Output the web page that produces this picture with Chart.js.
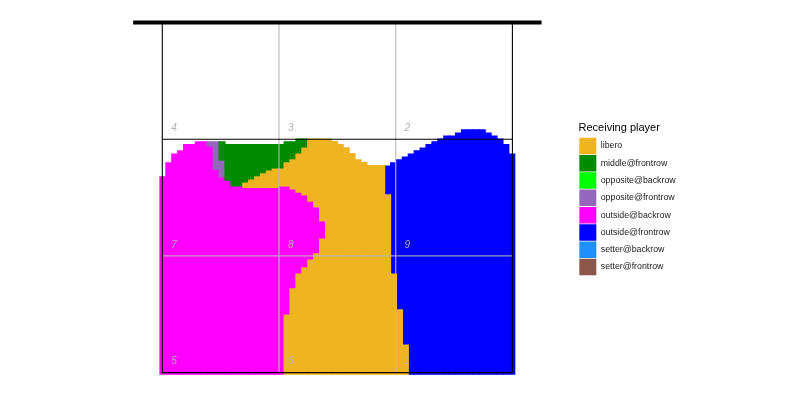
<!DOCTYPE html>
<html>
<head>
<meta charset="utf-8">
<script src="https://cdn.jsdelivr.net/npm/chart.js@4.4.1/dist/chart.umd.min.js"></script>
<style>
  html, body { margin: 0; padding: 0; background: #ffffff; }
  #wrap { position: relative; width: 791px; height: 400px; }
</style>
</head>
<body>
<div id="wrap"><canvas id="chart"></canvas></div>
<script>
// ---- Data -------------------------------------------------------------
// Receiving player categories (legend order)
const categories = ['libero', 'middle@frontrow', 'opposite@backrow', 'opposite@frontrow',
                    'outside@backrow', 'outside@frontrow', 'setter@backrow', 'setter@frontrow'];

// Heat-map grid: 60 columns across the court width (metres)
const gridStart = -0.06;
const gridStep = 0.152;

// Cells per receiving player: [grid column, depth from net at top (m), depth at bottom (m)]
const libero = [
  [14,4.13,4.24],[15,4.05,4.24],[16,3.97,4.24],[17,3.89,4.24],[18,3.82,4.24],[19,3.77,4.24],[20,3.77,4.20],
  [21,3.61,4.20],[21,7.52,9.04],[22,3.53,4.28],[22,6.85,9.04],[23,3.38,4.36],[23,6.47,9.04],
  [24,3.23,4.43],[24,6.31,9.04],[25,3.00,4.59],[25,6.11,9.04],[26,3.00,4.74],[26,5.95,9.04],
  [27,3.00,5.10],[27,5.57,9.04],[28,3.00,9.04],[29,3.06,9.04],[30,3.14,9.04],[31,3.22,9.04],
  [32,3.37,9.04],[33,3.53,9.04],[34,3.60,9.04],[35,3.68,9.04],[36,3.68,9.04],[37,3.68,9.04],
  [38,4.43,9.04],[39,6.47,9.04],[40,7.39,9.04],[41,8.29,9.04]
];
const middleFrontrow = [
  [10,3.07,3.53],[11,3.14,4.05],[12,3.14,4.20],[13,3.14,4.20],[14,3.14,4.13],[15,3.14,4.05],
  [16,3.14,3.97],[17,3.14,3.89],[18,3.14,3.82],[19,3.14,3.77],[20,3.14,3.77],[21,3.07,3.61],
  [22,3.07,3.53],[23,3.00,3.38],[24,3.00,3.23]
];
const oppositeBackrow = [];
const oppositeFrontrow = [[8,3.07,3.17],[9,3.07,3.77],[10,3.53,3.97]];
const outsideBackrow = [
  [0,3.97,9.04],[1,3.61,9.04],[2,3.38,9.04],[3,3.30,9.04],[4,3.14,9.04],[5,3.14,9.04],[6,3.07,9.04],
  [7,3.07,9.04],[8,3.17,9.04],[9,3.77,9.04],[10,3.97,9.04],[11,4.05,9.04],[12,4.20,9.04],[13,4.20,9.04],
  [14,4.24,9.04],[15,4.24,9.04],[16,4.24,9.04],[17,4.24,9.04],[18,4.24,9.04],[19,4.24,9.04],
  [20,4.20,9.04],[21,4.20,7.52],[22,4.28,6.85],[23,4.36,6.47],[24,4.43,6.31],[25,4.59,6.11],
  [26,4.74,5.95],[27,5.10,5.57]
];
const outsideFrontrow = [
  [38,3.69,4.43],[39,3.61,6.47],[40,3.53,7.39],[41,3.46,8.29],[42,3.38,9.04],[43,3.30,9.04],
  [44,3.23,9.04],[45,3.14,9.04],[46,3.07,9.04],[47,3.00,9.04],[48,2.92,9.04],[49,2.92,9.04],
  [50,2.84,9.04],[51,2.76,9.04],[52,2.76,9.04],[53,2.76,9.04],[54,2.76,9.04],[55,2.84,9.04],
  [56,2.92,9.04],[57,3.00,9.04],[58,3.14,9.04],[59,3.38,9.04]
];
const setterBackrow = [];
const setterFrontrow = [];

// Court geometry (metres): 9 x 9 half court, net at depth 0
const courtEdges = [0, 9];
const netSpan = [-0.75, 9.75];
const attackDepth = 3;
const zoneLinesX = [3, 6];
const zoneLinesY = [6];

// Zone numbers
const zoneNumbers = ['4', '3', '2', '7', '8', '9', '5', '6', '1'];
const zoneNumberX = [0.3, 3.3, 6.3, 0.3, 3.3, 6.3, 0.3, 3.3, 6.3];
const zoneNumberY = [2.72, 2.72, 2.72, 5.72, 5.72, 5.72, 8.72, 8.72, 8.72];

// ---- Styles -----------------------------------------------------------
const categoryColors = ['#EEB422', '#008B00', '#00FF00', '#9467BD', '#FF00FF', '#0000FF', '#1E90FF', '#8C564B'];
const cellsByCategory = [libero, middleFrontrow, oppositeBackrow, oppositeFrontrow,
                         outsideBackrow, outsideFrontrow, setterBackrow, setterFrontrow];
const FONT = "'Liberation Sans', Arial, Helvetica, sans-serif";
Chart.defaults.font.family = FONT;

const colCenter = c => gridStart + (c + 0.5) * gridStep;

const barSets = categories.map((name, i) => ({
  type: 'bar',
  label: name,
  order: 2,
  data: cellsByCategory[i].map(([c, top, bottom]) => ({ x: colCenter(c), y: [top, bottom] })),
  backgroundColor: categoryColors[i],
  borderWidth: 0,
  grouped: false,
  barPercentage: 1,
  categoryPercentage: 1,
  inflateAmount: 0.6
}));

const lineSet = (pts, color, width, order) => ({
  type: 'line',
  label: '_court',
  order: order,
  data: pts.map(([x, y]) => ({ x, y })),
  borderColor: color,
  borderWidth: width,
  pointRadius: 0,
  fill: false,
  tension: 0,
  borderCapStyle: 'butt'
});

const [c0, c1] = courtEdges;
const grey = 'rgba(185,185,185,0.85)';
const lineSets = [
  ...zoneLinesX.map(xv => lineSet([[xv, c0], [xv, c1]], grey, 1.3, 1)),
  ...zoneLinesY.map(yv => lineSet([[c0, yv], [c1, yv]], grey, 1.3, 1)),
  lineSet([[c0, c0], [c0, c1], [c1, c1], [c1, c0]], '#000000', 1.1, 0),
  lineSet([[c0, attackDepth], [c1, attackDepth]], '#000000', 1.1, 0),
  lineSet([[netSpan[0], 0], [netSpan[1], 0]], '#000000', 4, 0)
];

const zoneLabelPlugin = {
  id: 'zoneLabels',
  afterDatasetsDraw(chart) {
    const { ctx, scales: { x, y } } = chart;
    ctx.save();
    ctx.font = 'italic 10px ' + FONT;
    ctx.fillStyle = '#B3B3B3';
    ctx.textAlign = 'center';
    ctx.textBaseline = 'middle';
    zoneNumbers.forEach((t, i) => {
      ctx.fillText(t, x.getPixelForValue(zoneNumberX[i]), y.getPixelForValue(zoneNumberY[i]));
    });
    ctx.restore();
  }
};

new Chart(document.getElementById('chart'), {
  type: 'bar',
  data: { datasets: [...barSets, ...lineSets] },
  plugins: [zoneLabelPlugin],
  options: {
    responsive: true,
    maintainAspectRatio: false,
    animation: false,
    events: [],
    layout: { padding: { left: 131.18, right: 112.47, top: 3.05, bottom: 7.95 } },
    scales: {
      x: { type: 'linear', min: -0.8, max: 10.7, offset: false, display: false,
           ticks: { stepSize: 1 }, grid: { display: false } },
      y: { type: 'linear', min: -0.5, max: 9.5, reverse: true, display: false,
           grid: { display: false } }
    },
    plugins: {
      tooltip: { enabled: false },
      legend: {
        display: true,
        position: 'right',
        align: 'start',
        maxWidth: 100,
        title: {
          display: true,
          text: 'Receiving player',
          position: 'start',
          color: '#000000',
          font: { size: 11, family: FONT },
          padding: { top: 119.45, bottom: 1.2 }
        },
        labels: {
          boxWidth: 17,
          boxHeight: 16.5,
          padding: 0.8,
          color: '#1A1A1A',
          font: { size: 8.8, family: FONT },
          filter: item => item.datasetIndex < categories.length
        }
      }
    }
  }
});
</script>
</body>
</html>
